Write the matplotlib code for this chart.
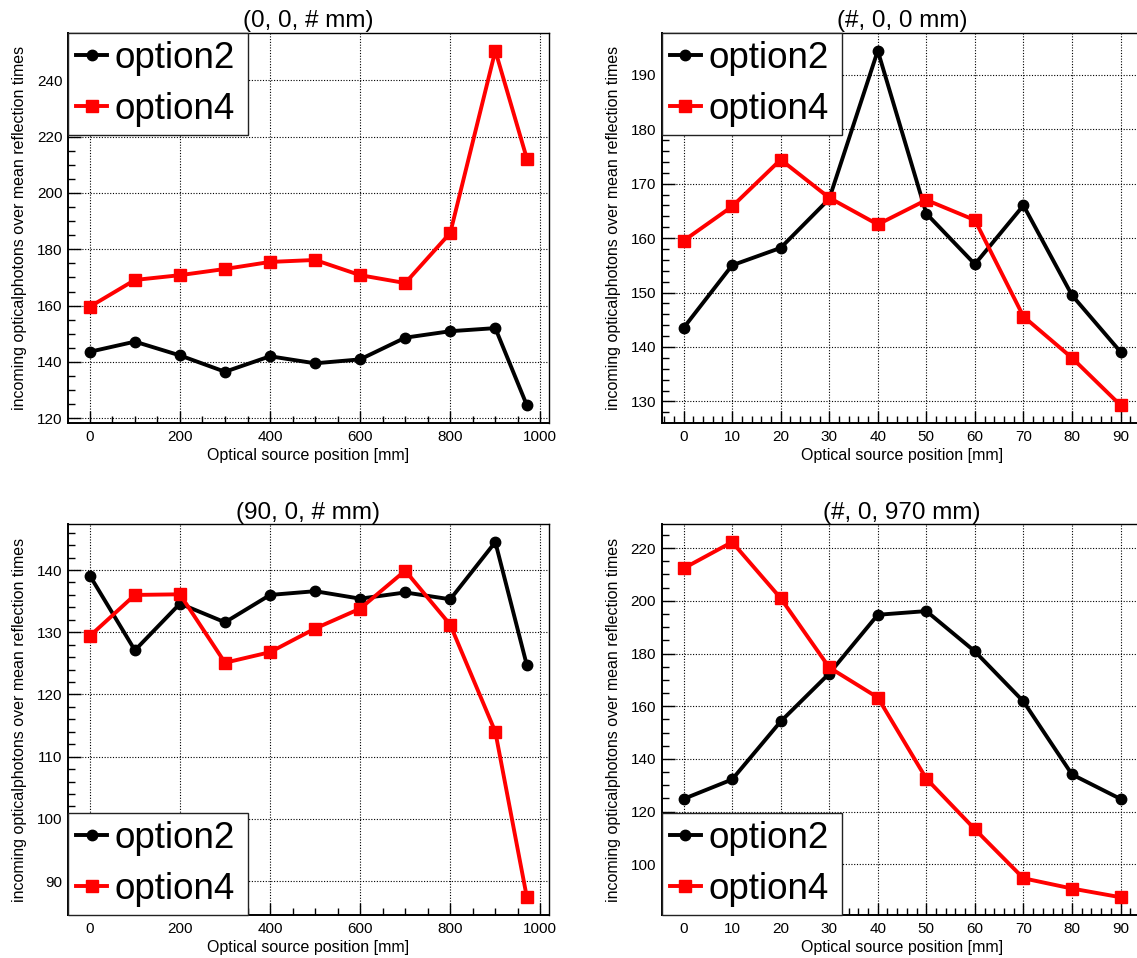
import matplotlib
matplotlib.use("Agg")
from matplotlib import pyplot as plt
from matplotlib.ticker import MultipleLocator
import numpy as np

plt.rcParams['font.family'] = ['Liberation Sans', 'DejaVu Sans']

# положения источника
z_pos = [0, 100, 200, 300, 400, 500, 600, 700, 800, 900, 970]
x_pos = [0, 10, 20, 30, 40, 50, 60, 70, 80, 90]

# (0, 0, # mm)
p1_opt2 = [143.6, 147.2, 142.3, 136.5, 142.0, 139.5, 140.9, 148.6, 150.9, 152.0, 124.6]
p1_opt4 = [159.6, 169.1, 170.8, 173.0, 175.5, 176.2, 170.8, 168.0, 185.8, 250.5, 212.2]
# (#, 0, 0 mm)
p2_opt2 = [143.5, 155.0, 158.2, 167.2, 194.4, 164.5, 155.2, 166.0, 149.5, 139.1]
p2_opt4 = [159.5, 165.8, 174.4, 167.4, 162.5, 167.0, 163.3, 145.6, 138.0, 129.3]
# (90, 0, # mm)
p3_opt2 = [139.1, 127.1, 134.6, 131.6, 136.0, 136.6, 135.4, 136.4, 135.3, 144.5, 124.7]
p3_opt4 = [129.4, 136.0, 136.1, 125.1, 126.8, 130.6, 133.8, 139.9, 131.2, 114.0, 87.4]
# (#, 0, 970 mm)
p4_opt2 = [124.8, 132.2, 154.2, 172.4, 194.7, 196.1, 180.8, 161.8, 134.1, 124.8]
p4_opt4 = [212.3, 222.3, 201.0, 174.7, 163.3, 132.5, 113.3, 94.7, 90.8, 87.5]

titles = ['(0, 0, # mm)', '(#, 0, 0 mm)', '(90, 0, # mm)', '(#, 0, 970 mm)']
labels = ['option2', 'option4']
ylabel = 'incoming opticalphotons over mean reflection times'
xlabel = 'Optical source position [mm]'

W, H = 1137, 958
fig = plt.figure(figsize=(W / 100, H / 100), dpi=100)

def frame(l, t, r, b):  # пиксели -> доли фигуры
    return [l / W, 1 - b / H, (r - l) / W, (b - t) / H]

panels = [
    (frame(68, 33, 548.7, 423), z_pos, p1_opt2, p1_opt4, (200, 50), (20, 5), 'upper'),
    (frame(661.7, 33, 1142.4, 423), x_pos, p2_opt2, p2_opt4, (10, 2), (10, 2), 'upper'),
    (frame(68, 524.3, 548.7, 915), z_pos, p3_opt2, p3_opt4, (200, 50), (10, 2), 'lower'),
    (frame(661.7, 524.3, 1142.4, 915), x_pos, p4_opt2, p4_opt4, (10, 2), (20, 5), 'lower'),
]

def margins(v):  # как в ROOT: 5% по краям
    lo, hi = min(v), max(v)
    d = hi - lo
    return lo - 0.05 * d, hi + 0.05 * d

for i, (rect, X, Y2, Y4, xt, yt, where) in enumerate(panels):
    ax = fig.add_axes(rect)
    ax.plot(X, Y2, color='black', lw=2.8, marker='o', ms=7.5, label=labels[0], zorder=3)
    ax.plot(X, Y4, color='red', lw=2.8, marker='s', ms=8, label=labels[1], zorder=3)
    ax.set_xlim(*margins(X))
    ax.set_ylim(*margins(Y2 + Y4))
    ax.xaxis.set_major_locator(MultipleLocator(xt[0]))
    ax.xaxis.set_minor_locator(MultipleLocator(xt[1]))
    ax.yaxis.set_major_locator(MultipleLocator(yt[0]))
    ax.yaxis.set_minor_locator(MultipleLocator(yt[1]))
    ax.tick_params(which='both', direction='in', top=False, right=False, labelsize=11)
    ax.tick_params(which='major', length=9, width=1)
    ax.tick_params(which='minor', length=5, width=1)
    ax.tick_params(axis='y', pad=4)
    ax.tick_params(axis='x', pad=5)
    ax.grid(True, which='major', color='black', lw=0.8, ls=(0, (1, 1.5)))
    ax.set_axisbelow(True)
    for s in ax.spines.values():
        s.set_linewidth(1.0)
    ax.spines['left'].set_linewidth(1.4)
    ax.spines['bottom'].set_linewidth(1.4)
    ax.set_title(titles[i], fontsize=17.5, pad=4)
    ax.set_xlabel(xlabel, fontsize=11.5)
    ax.set_ylabel(ylabel, fontsize=11.5)
    ax.yaxis.set_label_coords(-0.085, 0.5)
    ax.xaxis.set_label_coords(0.5, -0.065)
    if where == 'upper':
        anchor, loc = (0, 1), 'upper left'
    else:
        anchor, loc = (0, 0), 'lower left'
    leg = ax.legend(loc=loc, bbox_to_anchor=(anchor[0], anchor[1], 0.375, 0), mode='expand',
                    fontsize=26.5, numpoints=1, handlelength=0.85, handletextpad=0.19,
                    borderpad=0.22, labelspacing=0.43, borderaxespad=0, fancybox=False,
                    framealpha=1, edgecolor='#222222')
    leg.get_frame().set_linewidth(1.0)
    leg.set_zorder(5)

fig.savefig('out.png', dpi=100)
